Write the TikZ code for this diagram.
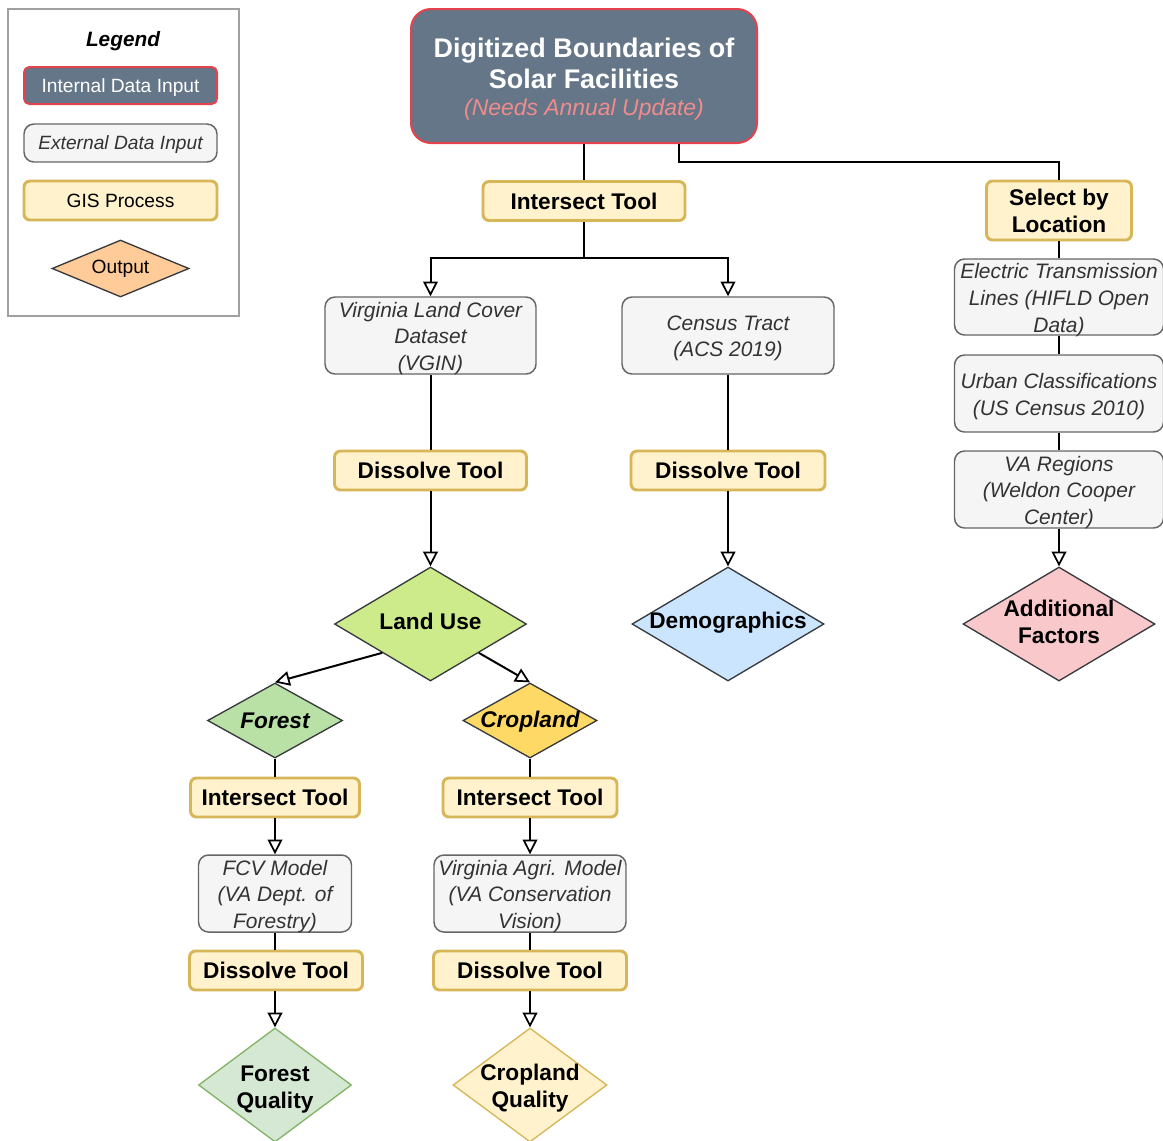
\documentclass[tikz,border=0pt]{standalone}
\usepackage{fontspec}
\setmainfont{Liberation Sans}
\usetikzlibrary{shapes.geometric,arrows.meta,calc}
\definecolor{slate}{HTML}{647687}
\definecolor{redb}{HTML}{E3424E}
\definecolor{pinkt}{HTML}{F08C8C}
\definecolor{extf}{HTML}{F5F5F5}
\definecolor{extd}{HTML}{666666}
\definecolor{extt}{HTML}{333333}
\definecolor{gisf}{HTML}{FFF2CC}
\definecolor{gisd}{HTML}{D6B656}
\definecolor{dk}{HTML}{36393D}
\definecolor{luf}{HTML}{CDEB8B}
\definecolor{demf}{HTML}{CCE5FF}
\definecolor{addff}{HTML}{F8C8CA}
\definecolor{forf}{HTML}{B9E0A5}
\definecolor{cropf}{HTML}{FFD966}
\definecolor{fqf}{HTML}{D5E8D4}
\definecolor{fqd}{HTML}{82B366}
\definecolor{outf}{HTML}{FFCC99}
\definecolor{legd}{HTML}{A0A0A0}
\tikzset{
  sz/.style 2 args={minimum width=#1*0.75pt, minimum height=#2*0.75pt},
  boldlbl/.style={font=\fontsize{17}{20.25}\selectfont\bfseries, align=center, inner sep=0pt, text=black},
  exttxt/.style={font=\fontsize{15.7}{20}\selectfont\itshape, align=center, inner sep=0pt, text=extt, yshift=-2.2pt},
  gisbox/.style={draw=gisd, fill=gisf, line width=2.2pt, rounded corners=4.5pt, inner sep=0pt, boldlbl},
  extbox/.style={draw=extd, fill=extf, line width=1.1pt, rounded corners=7.5pt, inner sep=0pt},
  diam/.style={diamond, draw=dk, line width=1pt, inner sep=0pt, aspect=1.5},
  conn/.style={line width=1.5pt, draw=black},
  arr/.style={conn, -{Triangle[open, length=11pt, width=11pt, line width=1.3pt]}},
}
\begin{document}
\begin{tikzpicture}[x=0.75pt, y=-0.75pt]
\useasboundingbox (0,0) rectangle (1163,1140);
\fill[white] (0,0) rectangle (1163,1140);

% ---------------- Legend ----------------
\node[draw=legd, line width=1.1pt, fill=white, sz={231}{307}] (leg) at (123.5,162.5) {};
\node[font=\fontsize{15.6}{18}\selectfont\bfseries\itshape, inner sep=0pt] (legt) at (123,41) {Legend};
\node[draw=redb, fill=slate, line width=1.5pt, rounded corners=4pt, sz={193}{37}, inner sep=0pt, text depth=0pt,
      font=\fontsize{14.4}{17}\selectfont, text=white] (lint) at (120.5,85.5) {Internal Data Input};
\node[extbox, sz={193}{38}, font=\fontsize{14.4}{17}\selectfont\itshape, text=extt, text depth=0pt] (lext) at (120.5,143) {External Data Input};
\node[gisbox, sz={193}{39}, font=\fontsize{14.4}{17}\selectfont\mdseries, text depth=0pt] (lgis) at (120.5,200.5) {GIS Process};
\node[diam, fill=outf, sz={137}{57},
      label={[font=\fontsize{14.4}{17}\selectfont, inner sep=0pt]center:Output}] (lout) at (120.5,268.5) {};

% ---------------- Top ----------------
\node[draw=redb, fill=slate, line width=1.5pt, rounded corners=15pt, sz={346}{134}] (top) at (584,76) {};
\node[font=\fontsize{20.2}{23.2}\selectfont\bfseries, text=white, align=center, inner sep=0pt] (topt) at (584,63) {Digitized Boundaries of\\Solar Facilities};
\node[font=\fontsize{17.2}{20}\selectfont\itshape, text=pinkt, inner sep=0pt] (topn) at (584,109.5) {(Needs Annual Update)};

\node[gisbox, sz={202}{39}] (it1) at (584,201) {Intersect Tool};
\node[gisbox, sz={145}{59}, label={[boldlbl]center:{Select by\\Location}}] (sbl) at (1059,210.5) {};

% ---------------- Middle ----------------
\node[extbox, sz={211}{77}, label={[exttxt]center:{Virginia Land Cover\\Dataset\\(VGIN)}}] (vlc) at (430.5,335.5) {};
\node[extbox, sz={212}{77}, label={[exttxt]center:{Census Tract\\(ACS 2019)}}] (cen) at (728,335.5) {};
\node[gisbox, sz={192}{39}] (dl) at (430.5,470.5) {Dissolve Tool};
\node[gisbox, sz={194}{39}] (dm) at (728,470.5) {Dissolve Tool};
\node[diam, fill=luf, sz={192}{114}, label={[boldlbl, yshift=2pt]center:Land Use}] (lu) at (430.5,624) {};
\node[diam, fill=demf, sz={192}{114}, label={[boldlbl, yshift=1pt]center:Demographics}] (demo) at (728,624) {};

% ---------------- Right column ----------------
\node[extbox, sz={209}{76}, label={[exttxt]center:{Electric Transmission\\Lines (HIFLD Open\\Data)}}] (elec) at (1059,297) {};
\node[extbox, sz={209}{77}, label={[exttxt]center:{Urban Classifications\\(US Census 2010)}}] (urb) at (1059,393.5) {};
\node[extbox, sz={209}{77}, label={[exttxt]center:{VA Regions\\(Weldon Cooper\\Center)}}] (var) at (1059,489.5) {};
\node[diam, fill=addff, sz={192}{114}, label={[boldlbl, yshift=1.5pt]center:{Additional\\Factors}}] (addf) at (1059,624) {};

% ---------------- Lower branches ----------------
\node[diam, fill=forf, sz={135}{75}, label={[boldlbl, font=\fontsize{17}{20.25}\selectfont\bfseries\itshape]center:Forest}] (forest) at (275,720.5) {};
\node[diam, fill=cropf, sz={134}{75}, label={[boldlbl, yshift=-1.2pt, font=\fontsize{17}{20.25}\selectfont\bfseries\itshape]center:Cropland}] (crop) at (530,720.5) {};
\node[gisbox, sz={169}{39}] (it2) at (275,797.5) {Intersect Tool};
\node[gisbox, sz={174}{39}] (it3) at (530,797.5) {Intersect Tool};
\node[extbox, sz={153}{77}, label={[exttxt]center:{FCV Model\\(VA Dept. of\\Forestry)}}] (fcv) at (275,893.5) {};
\node[extbox, sz={192}{77}, label={[exttxt]center:{Virginia Agri. Model\\(VA Conservation\\Vision)}}] (vam) at (530,893.5) {};
\node[gisbox, sz={173}{39}] (ds2) at (276,970.5) {Dissolve Tool};
\node[gisbox, sz={193}{39}] (ds3) at (530,970.5) {Dissolve Tool};
\node[diam, draw=fqd, fill=fqf, sz={153}{114}, label={[boldlbl, yshift=-3.7pt]center:{Forest\\Quality}}] (fq) at (275,1085) {};
\node[diam, draw=gisd, fill=gisf, sz={154}{114}, label={[boldlbl, yshift=-2.7pt]center:{Cropland\\Quality}}] (cq) at (530,1085) {};

% ---------------- Connectors ----------------
\coordinate (bend1) at (679,162);
\coordinate (j1) at (584,258);
\draw[conn] (top.south) -- (it1.north);
\draw[conn] (top.south -| bend1) -- (bend1) -| (sbl.north);
\draw[arr] (it1.south) -- (j1) -| (vlc.north);
\draw[arr] (j1) -| (cen.north);
\draw[conn] (vlc.south) -- (dl.north);
\draw[arr] (dl.south) -- (lu.north);
\draw[conn] (cen.south) -- (dm.north);
\draw[arr] (dm.south) -- (demo.north);
\draw[conn] (sbl.south) -- (elec.north);
\draw[conn] (elec.south) -- (urb.north);
\draw[conn] (urb.south) -- (var.north);
\draw[arr] (var.south) -- (addf.north);
\draw[arr] ($(lu.west)!0.5!(lu.south)$) -- (forest.north);
\draw[arr] ($(lu.east)!0.5!(lu.south)$) -- (crop.north);
\draw[conn] (forest.south) -- (it2.north);
\draw[arr] (it2.south) -- (fcv.north);
\draw[conn] (fcv.south) -- (fcv.south |- ds2.north);
\draw[arr] (ds2.south -| fq.north) -- (fq.north);
\draw[conn] (crop.south) -- (it3.north);
\draw[arr] (it3.south) -- (vam.north);
\draw[conn] (vam.south) -- (ds3.north);
\draw[arr] (ds3.south) -- (cq.north);
\end{tikzpicture}
\end{document}
